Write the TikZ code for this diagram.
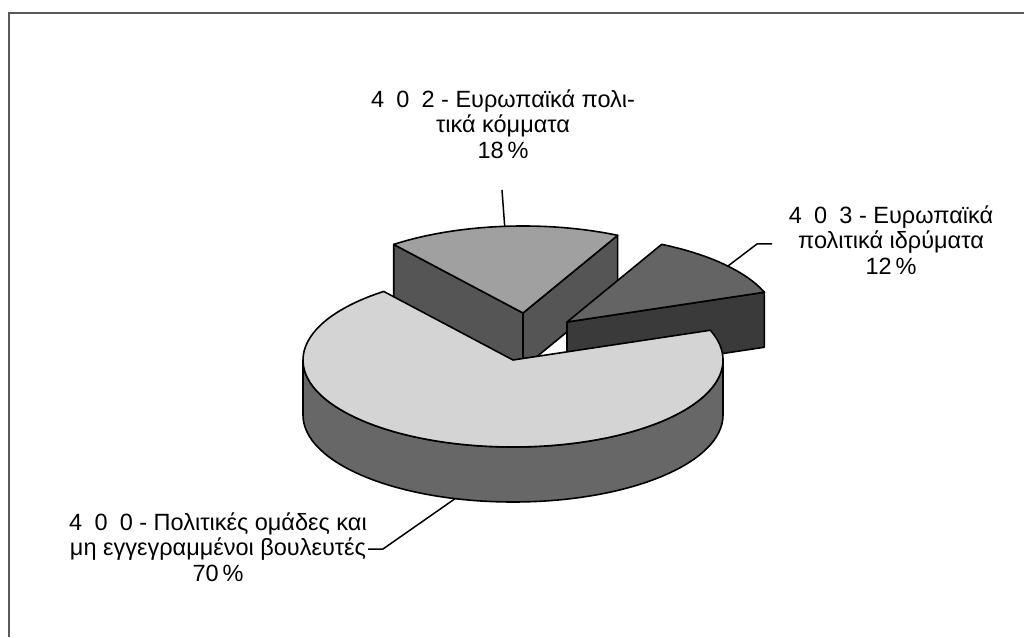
\documentclass[tikz,border=0pt]{standalone}
\usepackage{fontspec}
\setmainfont{Liberation Sans}
\usetikzlibrary{calc}
\definecolor{maintop}{HTML}{D4D4D4}
\definecolor{mainside}{HTML}{676767}
\definecolor{atop}{HTML}{A0A0A0}
\definecolor{aside}{HTML}{555555}
\definecolor{btop}{HTML}{646464}
\definecolor{bside}{HTML}{3A3A3A}
\definecolor{framecol}{HTML}{5A5A5A}
\newcommand{\dg}{\hspace{0.52em}}
\tikzset{
  piepart/.style={draw=black, line width=1.6pt, line join=round},
  leader/.style={draw=black, line width=1.5pt},
  lbl/.style={align=center, inner sep=0pt, font=\fontsize{23.5}{25.5}\selectfont},
  framestyle/.style={draw=framecol, line width=1.6pt}
}
\begin{document}
\begin{tikzpicture}[x=1pt,y=1pt]
\useasboundingbox (0,0) rectangle (1024,637);
\fill[white] (0,0) rectangle (1024,637);
\draw[framestyle] (9,0) -- (9,624) -- (1024,624);

\coordinate (C) at (513,277);
\coordinate (A) at (523,324);
\coordinate (B) at (567,315);

% slice 402 (back, exploded up)
\filldraw[piepart, fill=aside] (A) -- ++(128:210pt and 87pt) -- ++(0,-55) -- ($(A)+(0,-55)$) -- cycle;
\filldraw[piepart, fill=aside] (A) -- ++(63.2:210pt and 87pt) -- ++(0,-55) -- ($(A)+(0,-55)$) -- cycle;
\filldraw[piepart, fill=atop] (A) -- ++(63.2:210pt and 87pt) arc[start angle=63.2, end angle=128, x radius=210pt, y radius=87pt] -- cycle;

% slice 403 (exploded right)
\filldraw[piepart, fill=bside] (B) -- ++(20:210pt and 87pt) -- ++(0,-55) -- ($(B)+(0,-55)$) -- cycle;
\filldraw[piepart, fill=btop] (B) -- ++(20:210pt and 87pt) arc[start angle=20, end angle=63.2, x radius=210pt, y radius=87pt] -- cycle;

% main slice 400
\filldraw[piepart, fill=mainside] ($(C)+(-210,0)$) arc[start angle=180, end angle=360, x radius=210pt, y radius=87pt] -- ++(0,-55) arc[start angle=0, end angle=-180, x radius=210pt, y radius=87pt] -- cycle;
\filldraw[piepart, fill=maintop] (C) -- ++(128:210pt and 87pt) arc[start angle=128, end angle=380, x radius=210pt, y radius=87pt] -- cycle;

% labels
\node[lbl] (l402) at (503,513) {4\dg 0\dg 2 - Ευρωπαϊκά πολι-\\τικά κόμματα\\18\,\%};
\node[lbl] (l403) at (891,397) {4\dg 0\dg 3 - Ευρωπαϊκά\\πολιτικά ιδρύματα\\12\,\%};
\node[lbl] (l400) at (218,90) {4\dg 0\dg 0 - Πολιτικές ομάδες και\\μη εγγεγραμμένοι βουλευτές\\70\,\%};

% leaders
\coordinate (t402) at (502,447);
\coordinate (p402) at ($(A)+(95:210pt and 87pt)$);
\coordinate (e403) at (772,393);
\coordinate (k403) at (757,393);
\coordinate (p403) at ($(B)+(40:210pt and 87pt)$);
\coordinate (e400) at (368,88);
\coordinate (k400) at (383,88);
\coordinate (p400) at ($(C)+(254:210pt and 87pt)+(0,-55)$);
\draw[leader] (t402) -- (p402);
\draw[leader] (e403) -- (k403) -- (p403);
\draw[leader] (e400) -- (k400) -- (p400);
\end{tikzpicture}
\end{document}
